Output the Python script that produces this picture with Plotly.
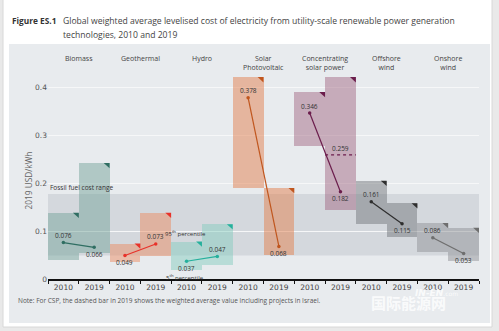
import plotly.graph_objects as go

# ---------------- data ----------------
techs = ["Biomass", "Geothermal", "Hydro", "Solar<br>Photovoltaic",
         "Concentrating<br>solar power", "Offshore<br>wind", "Onshore<br>wind"]
years = ["2010", "2019"]
avg_2010 = [0.076, 0.049, 0.037, 0.378, 0.346, 0.161, 0.086]
avg_2019 = [0.066, 0.073, 0.047, 0.068, 0.182, 0.115, 0.053]
p5_2010 = [0.040, 0.036, 0.019, 0.190, 0.277, 0.115, 0.057]
p95_2010 = [0.138, 0.074, 0.078, 0.421, 0.390, 0.205, 0.117]
p5_2019 = [0.055, 0.048, 0.030, 0.050, 0.144, 0.088, 0.038]
p95_2019 = [0.242, 0.138, 0.114, 0.190, 0.421, 0.158, 0.107]
csp_israel_2019 = 0.259
fossil_range = [0.049, 0.177]
y_ticks = [0, 0.1, 0.2, 0.3, 0.4]
y_ticktext = ["0", "0.1", "0.2", "0.3", "0.4"]

# label above (+1) or below (-1) the point
pos_2010 = [1, -1, -1, 1, 1, 1, 1]
pos_2019 = [-1, 1, 1, -1, -1, -1, -1]

# ---------------- styles ----------------
fills = ["rgba(112,162,150,0.47)", "rgba(236,135,92,0.47)", "rgba(130,204,190,0.47)",
         "rgba(225,128,78,0.5)", "rgba(160,100,128,0.47)", "rgba(110,114,118,0.47)",
         "rgba(140,143,146,0.47)"]
lines = ["#2f6e62", "#e8322a", "#25b09c", "#c0561e", "#6b1d4c", "#2e2e2e", "#6e6e6e"]

W, H = 499, 331
L, R, T, B = 48, 20, 68, 52
PW, PH = W - L - R, H - T - B
YMAX = 0.44


def px(x):
    return (x - L) / PW


def py(y):
    return (H - B - y) / PH


FONT = "Open Sans"
fig = go.Figure()

n = len(techs)
cols_2010 = [2 * i for i in range(n)]
cols_2019 = [2 * i + 1 for i in range(n)]

# range bars
xs, bases, heights, colors = [], [], [], []
for i in range(n):
    xs += [cols_2010[i], cols_2019[i]]
    bases += [p5_2010[i], p5_2019[i]]
    heights += [p95_2010[i] - p5_2010[i], p95_2019[i] - p5_2019[i]]
    colors += [fills[i], fills[i]]
fig.add_trace(go.Bar(x=xs, y=heights, base=bases, width=1, marker_color=colors,
                     marker_line_width=0, showlegend=False, hoverinfo="skip"))

# weighted average lines
for i in range(n):
    fig.add_trace(go.Scatter(x=[cols_2010[i], cols_2019[i]], y=[avg_2010[i], avg_2019[i]],
                             mode="lines+markers", line=dict(color=lines[i], width=1.2),
                             marker=dict(size=3.5, color=lines[i]), showlegend=False,
                             hoverinfo="skip"))

shapes = []
# page background card & panel
shapes.append(dict(type="rect", xref="paper", yref="paper", x0=px(3), x1=px(492),
                   y0=py(327), y1=py(-2), fillcolor="white",
                   line=dict(color="#d8d8d8", width=1), layer="below"))
shapes.append(dict(type="rect", xref="paper", yref="paper", x0=px(9), x1=px(490),
                   y0=py(323), y1=py(44), fillcolor="#e8ebee", line_width=0, layer="below"))
# fossil fuel band
shapes.append(dict(type="rect", xref="paper", yref="y", x0=0, x1=1,
                   y0=fossil_range[0], y1=fossil_range[1],
                   fillcolor="rgba(160,168,176,0.27)", line_width=0, layer="below"))
# CSP Israel dashed bar
ci = techs.index("Concentrating<br>solar power")
shapes.append(dict(type="line", xref="x", yref="y", x0=cols_2019[ci] - 0.5, x1=cols_2019[ci] + 0.5,
                   y0=csp_israel_2019, y1=csp_israel_2019,
                   line=dict(color=lines[ci], width=1.3, dash="dot")))
# corner triangles
dx, dy = 0.19, 0.011
for i in range(n):
    for c, top in ((cols_2010[i], p95_2010[i]), (cols_2019[i], p95_2019[i])):
        x1 = c + 0.5
        path = f"M {x1 - dx} {top} L {x1} {top} L {x1} {top - dy} Z"
        shapes.append(dict(type="path", xref="x", yref="y", path=path,
                           fillcolor=lines[i], line_width=0))

annotations = []
# value labels
for i in range(n):
    for c, v, p in ((cols_2010[i], avg_2010[i], pos_2010[i]), (cols_2019[i], avg_2019[i], pos_2019[i])):
        annotations.append(dict(x=c, y=v, text=f"{v:.3f}", showarrow=False,
                                yshift=7 * p, font=dict(family=FONT, size=6.5, color="#333")))
annotations.append(dict(x=cols_2019[ci], y=csp_israel_2019, text=f"{csp_israel_2019:.3f}",
                        showarrow=False, yshift=6, font=dict(family=FONT, size=6.5, color="#333")))
# category headers
for i in range(n):
    annotations.append(dict(x=(cols_2010[i] + cols_2019[i]) / 2, y=py(52), yref="paper",
                            text=techs[i], showarrow=False, yanchor="top",
                            font=dict(family=FONT, size=7, color="#444")))
# percentile labels
hi = techs.index("Hydro")
annotations.append(dict(x=cols_2010[hi] - 0.05, y=p95_2010[hi], text="95<sup>th</sup> percentile",
                        showarrow=False, yshift=8, font=dict(family=FONT, size=6, color="#333")))
annotations.append(dict(x=cols_2010[hi] - 0.05, y=p5_2010[hi], text="5<sup>th</sup> percentile",
                        showarrow=False, yshift=-8, font=dict(family=FONT, size=6, color="#333")))
# fossil label
annotations.append(dict(x=0, xref="paper", y=fossil_range[1], text="Fossil fuel cost range",
                        showarrow=False, xanchor="left", yanchor="bottom",
                        font=dict(family=FONT, size=6.5, color="#333")))
# y title
annotations.append(dict(x=px(20), y=py(181), xref="paper", yref="paper", text="2019 USD/kWh",
                        textangle=-90, showarrow=False, font=dict(family=FONT, size=8.3, color="#666")))
# figure title
annotations.append(dict(x=px(10), y=py(13), xref="paper", yref="paper", text="<b>Figure ES.1</b>",
                        xanchor="left", showarrow=False, font=dict(family=FONT, size=8.3, color="#333")))
annotations.append(dict(x=px(61), y=py(13), xref="paper", yref="paper",
                        text="Global weighted average levelised cost of electricity from utility-scale renewable power generation",
                        xanchor="left", showarrow=False, font=dict(family=FONT, size=8.6, color="#444")))
annotations.append(dict(x=px(61), y=py(27), xref="paper", yref="paper",
                        text="technologies, 2010 and 2019",
                        xanchor="left", showarrow=False, font=dict(family=FONT, size=8.6, color="#444")))
# note
annotations.append(dict(x=px(16), y=py(307), xref="paper", yref="paper",
                        text="Note: For CSP, the dashed bar in 2019 shows the weighted average value including projects in Israel.",
                        xanchor="left", showarrow=False, font=dict(family=FONT, size=6.5, color="#555")))
# watermark
annotations.append(dict(x=px(413), y=py(300), xref="paper", yref="paper",
                        text="<i><b>IN-EN</b></i><span style='font-size:6px'>.com</span>",
                        xanchor="left", showarrow=False,
                        font=dict(family="DejaVu Sans", size=9, color="rgba(255,255,255,0.8)")))
annotations.append(dict(x=px(448), y=py(315), xref="paper", yref="paper", text="<b>国际能源网</b>",
                        showarrow=False,
                        font=dict(family="Noto Sans CJK SC", size=15, color="rgba(255,255,255,0.8)")))

fig.update_layout(
    width=W, height=H, margin=dict(l=L, r=R, t=T, b=B, autoexpand=False),
    paper_bgcolor="#e9e9e9", plot_bgcolor="rgba(0,0,0,0)",
    barmode="overlay", bargap=0,
    shapes=shapes, annotations=annotations, showlegend=False,
    xaxis=dict(range=[-0.5, 2 * n - 0.5], tickmode="array",
               tickvals=list(range(2 * n)), ticktext=years * n,
               ticks="", showgrid=False, zeroline=False,
               showline=True, linecolor="#111", linewidth=2,
               tickfont=dict(family="DejaVu Sans", size=7.5, color="#444"),
               minor=dict(tickmode="linear", tick0=-0.5, dtick=1, ticks="outside",
                          ticklen=3, tickwidth=1.3, tickcolor="#111", showgrid=False),
               fixedrange=True),
    yaxis=dict(range=[0, YMAX], tickmode="array", tickvals=y_ticks, ticktext=y_ticktext,
               showgrid=True, gridcolor="#f6f7f8", gridwidth=1, zeroline=False,
               showline=False, ticks="",
               tickfont=dict(family="DejaVu Sans", size=7.5, color="#555")),
)

fig.write_html("out.html")
